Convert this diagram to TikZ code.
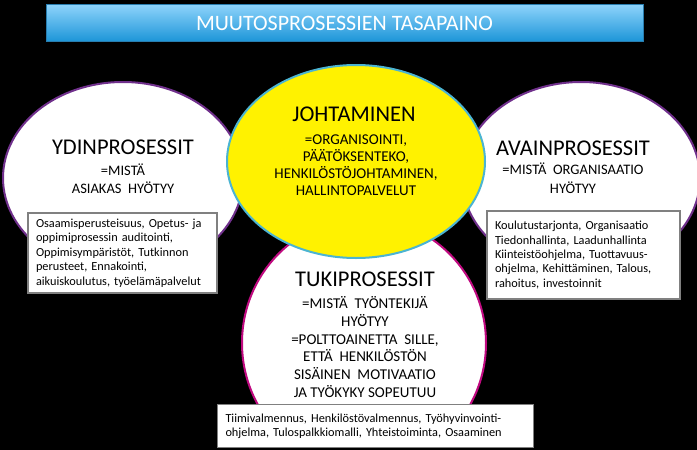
\documentclass[tikz,border=0pt]{standalone}
\usepackage{fontspec}
\setmainfont{Carlito}
\usetikzlibrary{shapes.geometric}
\definecolor{titletop}{RGB}{143,212,252}
\definecolor{titlebot}{RGB}{30,150,216}
\definecolor{titleedge}{RGB}{40,125,175}
\definecolor{purpleedge}{RGB}{112,48,140}
\definecolor{cyanedge}{RGB}{75,180,210}
\definecolor{pinkedge}{RGB}{192,10,128}
\definecolor{boxedge}{RGB}{128,128,128}
\tikzset{
  bubble/.style={ellipse, inner sep=0pt, line width=2pt, fill=white},
  heading/.style={font=\fontsize{22.5}{24}\selectfont, inner sep=0pt},
  sub/.style={font=\fontsize{14.5}{17}\selectfont, inner sep=0pt, align=center},
  infobox/.style={draw=boxedge, line width=1.8pt, fill=white, align=left,
    inner xsep=8pt, inner ysep=0pt, font=\fontsize{12.3}{14.4}\selectfont},
}
\begin{document}
\begin{tikzpicture}[x=1pt,y=-1pt]
\useasboundingbox (0,0) rectangle (697,450);
\fill[black] (0,0) rectangle (697,450);
\clip (0,0) rectangle (697,450);
% title
\node[draw=titleedge, line width=1pt, top color=titletop, bottom color=titlebot,
  minimum width=597pt, minimum height=37pt, inner sep=0pt] (title) at (344.5,22.5) {};
\node[text=white, font=\fontsize{22}{24}\selectfont, inner sep=0pt] (titletext) at (344.5,23) {MUUTOSPROSESSIEN TASAPAINO};
% ellipses
\node[bubble, draw=purpleedge, minimum width=240pt, minimum height=192pt] (ydin) at (123,178) {};
\node[bubble, draw=purpleedge, minimum width=238pt, minimum height=192pt] (avain) at (581,178) {};
\begin{scope}
\clip (0,0) rectangle (697,440);
\node[bubble, draw=pinkedge, minimum width=244pt, minimum height=250pt] (tuki) at (364,343) {};
\end{scope}
\node[bubble, draw=cyanedge, fill=yellow, minimum width=258pt, minimum height=193pt] (johto) at (356,161.5) {};
% left texts
\node[heading] (ydinh) at (123,147) {YDINPROSESSIT};
\node[sub] (ydin1) at (123,170) {=MISTÄ};
\node[sub] (ydin2) at (123,188) {ASIAKAS\ \ HYÖTYY};
% centre texts
\node[heading] (johtoh) at (354,114) {JOHTAMINEN};
\node[sub, font=\fontsize{15}{17}\selectfont] (johto1) at (356,165)
  {=ORGANISOINTI,\\PÄÄTÖKSENTEKO,\\HENKILÖSTÖJOHTAMINEN,\\HALLINTOPALVELUT};
% right texts
\node[heading] (avainh) at (573,148) {AVAINPROSESSIT};
\node[sub] (avain1) at (573,169) {=MISTÄ\ \ ORGANISAATIO};
\node[sub] (avain2) at (573,188) {HYÖTYY};
% tuki texts
\node[heading] (tukih) at (365,279) {TUKIPROSESSIT};
\node[sub, font=\fontsize{15}{17.8}\selectfont] (tuki1) at (365,347)
  {=MISTÄ\ \ TYÖNTEKIJÄ\\HYÖTYY\\=POLTTOAINETTA\ \ SILLE,\\ETTÄ\ \ HENKILÖSTÖN\\SISÄINEN\ \ MOTIVAATIO\\JA\ TYÖKYKY\ SOPEUTUU};
% boxes
\node[infobox, minimum width=189pt, minimum height=80pt, text width=173pt] (ydinbox) at (122.5,253)
  {Osaamisperusteisuus, Opetus- ja\\oppimiprosessin auditointi,\\Oppimisympäristöt, Tutkinnon\\perusteet, Ennakointi,\\aikuiskoulutus, työelämäpalvelut};
\node[infobox, minimum width=193pt, minimum height=88pt, text width=177pt] (avainbox) at (583.5,255)
  {Koulutustarjonta, Organisaatio\\Tiedonhallinta, Laadunhallinta\\Kiinteistöohjelma, Tuottavuus-\\ohjelma, Kehittäminen, Talous,\\rahoitus, investoinnit};
\node[infobox, minimum width=316pt, minimum height=43pt, text width=300pt] (tukibox) at (375.5,426)
  {Tiimivalmennus, Henkilöstövalmennus, Työhyvinvointi-\\ohjelma, Tulospalkkiomalli, Yhteistoiminta, Osaaminen};
\end{tikzpicture}
\end{document}
